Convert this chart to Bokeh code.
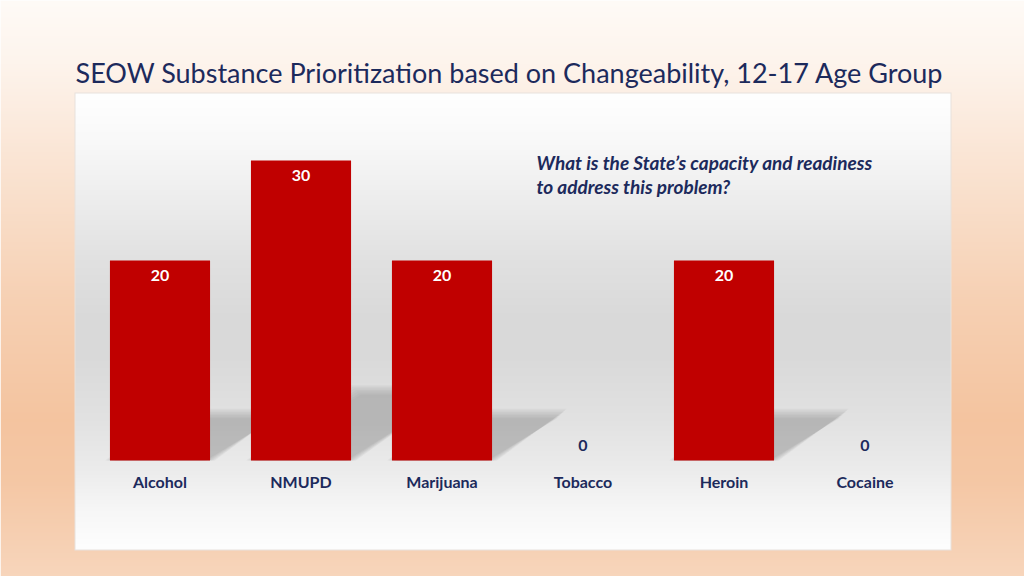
import numpy as np
from bokeh.plotting import figure
from bokeh.models import FactorRange, Range1d, ColumnDataSource
from bokeh.core.properties import value
from bokeh.embed import file_html
from bokeh.resources import INLINE

# ---------------- data ----------------
categories = ["Alcohol", "NMUPD", "Marijuana", "Tobacco", "Heroin", "Cocaine"]
scores = [20, 30, 20, 0, 20, 0]
title_text = "SEOW Substance Prioritization based on Changeability, 12-17 Age Group"
note_lines = ["What is the State\u2019s capacity and readiness", "to address this problem?"]

# ---------------- layout constants ----------------
W, H = 1024, 576
UNIT_PX = 141.0    # pixels per category
Y0_PX = 460        # pixel row of score 0
PX_PER_SCORE = 10.0
NAVY = "#1c2a5c"
RED = "#c00000"

n = len(categories)
pad_units = (W / UNIT_PX - n) / 2.0
X_START = -pad_units
Y_START = -(H - Y0_PX) / PX_PER_SCORE


def sx_of(px):
    """page pixel x -> synthetic x coordinate"""
    return X_START + px / UNIT_PX


def sy_of(py):
    """page pixel y -> y data coordinate"""
    return Y_START + (H - py) / PX_PER_SCORE


# ---------------- background image (slide gradient + panel) ----------------
Yr = np.arange(H) + 0.5
t = np.interp(Yr, [0, 60, 150, 300, 420, 480, 576], [0.02, 0.12, 0.35, 0.70, 0.90, 0.85, 0.62])
white = np.array([255.0, 252.0, 249.0])
peach = np.array([243.0, 190.0, 150.0])
col = white[None, :] * (1 - t[:, None]) + peach[None, :] * t[:, None]
bg = np.broadcast_to(col[:, None, :], (H, W, 3)).copy()

r0, r1, c0, c1 = 92, 549, 74, 950
g = np.interp(Yr, [92, 140, 200, 260, 320, 360, 420, 470, 510, 549],
              [255, 249, 237, 225, 217, 218, 226, 236, 247, 254])
bg[r0:r1 + 1, c0:c1 + 1, :] = g[r0:r1 + 1, None, None]
edge = np.array([232.0, 226.0, 221.0])
bg[r0, c0:c1 + 1] = edge
bg[r1, c0:c1 + 1] = edge
bg[r0:r1 + 1, c0] = edge
bg[r0:r1 + 1, c1] = edge

img = np.empty((H, W), dtype=np.uint32)
view = img.view(dtype=np.uint8).reshape((H, W, 4))
view[:, :, :3] = np.clip(bg, 0, 255).astype(np.uint8)
view[:, :, 3] = 255
img = np.ascontiguousarray(img[::-1])

# ---------------- figure ----------------
x_range = FactorRange(factors=categories, range_padding=2 * pad_units / n,
                      range_padding_units="percent")
y_range = Range1d(Y_START, Y_START + H / PX_PER_SCORE)

p = figure(width=W, height=H, x_range=x_range, y_range=y_range,
           output_backend="svg", toolbar_location=None, min_border=0,
           y_axis_location=None, x_axis_location="below",
           outline_line_color=None, border_fill_color="#f6d2b6")
p.grid.visible = False

p.image_rgba(image=[img], x=X_START, y=Y_START, dw=W / UNIT_PX, dh=H / PX_PER_SCORE)

# ---------------- bar shadows ----------------
bar_w = 0.71
sx = (70.0 / UNIT_PX) / 20.0
sy = 4.7 / 20.0
for e in [-3, -2, -1, 0, 1, 2, 3]:
    ex = e * 1.6 / UNIT_PX
    ey = e * 1.6 / PX_PER_SCORE
    xs, ys = [], []
    for i, v in enumerate(scores):
        if v <= 0:
            continue
        c = i + 0.5
        l, r = c - bar_w / 2, c + bar_w / 2
        dx, dy = v * sx, v * sy
        xs.append([l - ex, r + ex, r + dx + ex, l + dx - ex])
        ys.append([0, 0, dy + ey, dy + ey])
    p.patches(xs, ys, fill_color="#8c8c8c", fill_alpha=0.085, line_color=None)

# ---------------- bars ----------------
src = ColumnDataSource(dict(
    cat=categories,
    score=scores,
    label=[str(v) for v in scores],
    ly=[v - 1.5 if v > 0 else v + 1.5 for v in scores],
    lc=["white" if v > 0 else NAVY for v in scores],
))
p.vbar(x="cat", top="score", width=bar_w, source=src,
       fill_color=RED, line_color=None)
p.text(x="cat", y="ly", text="label", source=src, text_color="lc",
       text_font=value("Lato"), text_font_style="bold", text_font_size="16px",
       text_align="center", text_baseline="middle")

# ---------------- category axis ----------------
ax = p.xaxis[0]
ax.fixed_location = 0
ax.axis_line_color = None
ax.major_tick_line_color = None
ax.minor_tick_line_color = None
ax.major_label_standoff = 5
ax.major_label_text_font = "Lato"
ax.major_label_text_font_style = "bold"
ax.major_label_text_font_size = "16px"
ax.major_label_text_color = NAVY

# ---------------- title and note ----------------
p.text(x=[sx_of(75)], y=[sy_of(72)], text=[title_text],
       text_font=value("Lato"), text_font_size="27px", text_color=NAVY,
       text_align="left", text_baseline="middle")
p.text(x=[sx_of(536), sx_of(536)], y=[sy_of(162), sy_of(186)], text=note_lines,
       text_font=value("Lato"), text_font_style="bold italic", text_font_size="19px",
       text_color=NAVY, text_align="left", text_baseline="middle")

open("out.html", "w").write(file_html(p, INLINE))
